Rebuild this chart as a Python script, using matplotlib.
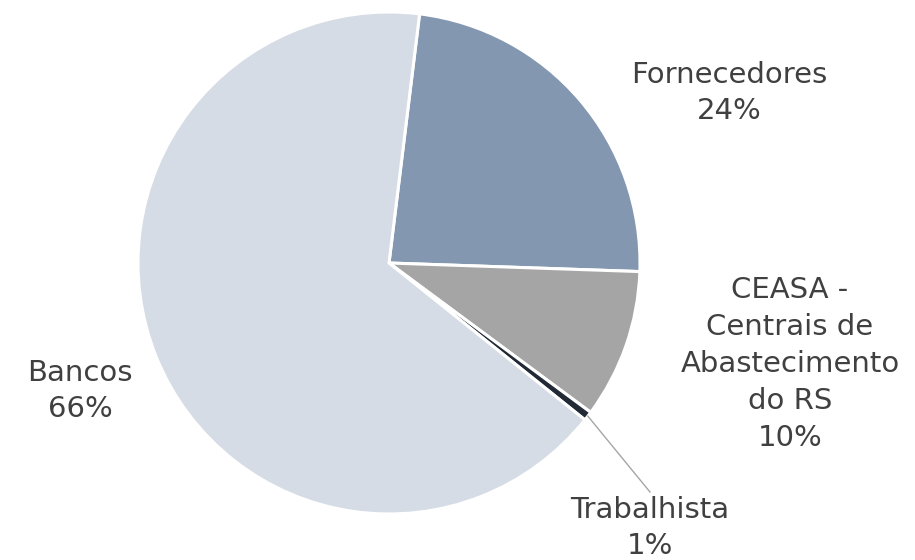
import matplotlib
matplotlib.use("Agg")
import matplotlib.pyplot as plt
import numpy as np

categories = ["Fornecedores", "CEASA -\nCentrais de\nAbastecimento\ndo RS", "Trabalhista", "Bancos"]
shares = [23.6, 9.6, 0.6, 66.2]
colors = ["#8497B0", "#A5A5A5", "#222A35", "#D6DCE5"]
# label block centres (pixels, y from bottom)
label_pos = [(729, 467), (790, 196), (650, 32), (80, 169)]

plt.rcParams["font.family"] = ["DejaVu Sans"]

fig = plt.figure(figsize=(9.15, 5.6), dpi=100)
ax = fig.add_axes([0, 0, 1, 1])

cx, cy, r = 389, 297, 251
wedges, _ = ax.pie(shares, colors=colors, startangle=83, counterclock=False,
                   center=(cx, cy), radius=r, frame=True,
                   wedgeprops=dict(edgecolor="white", linewidth=2.2))
ax.set_xlim(0, 915)
ax.set_ylim(0, 560)
ax.set_aspect("equal")
ax.axis("off")

total = sum(shares)
for w, cat, val, pos in zip(wedges, categories, shares, label_pos):
    ax.text(pos[0], pos[1], f"{cat}\n{val / total * 100:.0f}%", ha="center", va="center",
            fontsize=21, color="#404040", linespacing=1.4)

# leader line for the small slice
w = wedges[2]
mid = np.deg2rad((w.theta1 + w.theta2) / 2)
ax.plot([cx + r * np.cos(mid), 650], [cy + r * np.sin(mid), 68], color="#A6A6A6", lw=1)

fig.savefig("out.png", dpi=100)
